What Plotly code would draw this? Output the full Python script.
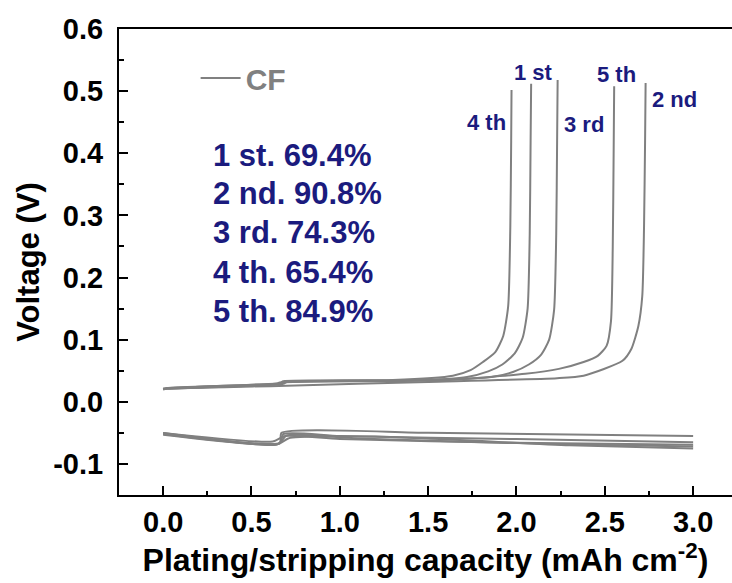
import plotly.graph_objects as go

# ---------------- data ----------------
# stripping (charge) curves, capacity in mAh cm-2, voltage in V
strip_cap_1 = [0.00, 0.02, 0.64, 0.66, 1.40, 1.72, 1.84, 1.92, 1.99, 2.035, 2.063, 2.075, 2.080, 2.083]
strip_v_1 = [0.021, 0.022, 0.028, 0.031, 0.034, 0.040, 0.049, 0.060, 0.078, 0.103, 0.150, 0.270, 0.420, 0.512]

strip_cap_2 = [0.00, 0.02, 0.70, 1.50, 2.23, 2.38, 2.60, 2.65, 2.69, 2.712, 2.722, 2.728, 2.731]
strip_v_2 = [0.020, 0.021, 0.026, 0.032, 0.038, 0.042, 0.066, 0.085, 0.122, 0.170, 0.280, 0.420, 0.513]

strip_cap_3 = [0.00, 0.02, 0.68, 0.70, 1.50, 1.86, 1.98, 2.07, 2.14, 2.185, 2.213, 2.225, 2.230, 2.233]
strip_v_3 = [0.020, 0.021, 0.029, 0.032, 0.035, 0.040, 0.048, 0.060, 0.076, 0.100, 0.148, 0.270, 0.420, 0.518]

strip_cap_4 = [0.00, 0.02, 0.66, 0.68, 1.30, 1.64, 1.74, 1.81, 1.88, 1.925, 1.953, 1.965, 1.970, 1.972]
strip_v_4 = [0.020, 0.022, 0.030, 0.033, 0.035, 0.042, 0.051, 0.064, 0.080, 0.106, 0.154, 0.280, 0.420, 0.502]

strip_cap_5 = [0.00, 0.02, 0.66, 0.68, 1.60, 2.05, 2.24, 2.38, 2.46, 2.51, 2.535, 2.545, 2.550, 2.553]
strip_v_5 = [0.021, 0.022, 0.030, 0.032, 0.035, 0.045, 0.053, 0.064, 0.074, 0.090, 0.130, 0.250, 0.400, 0.508]

# plating (discharge) curves
plate_cap_1 = [0.00, 0.66, 0.67, 1.50, 3.00]
plate_v_1 = [-0.050, -0.066, -0.050, -0.050, -0.055]
plate_cap_2 = [0.00, 0.66, 0.68, 1.00, 2.00, 3.00]
plate_v_2 = [-0.051, -0.067, -0.052, -0.055, -0.060, -0.065]
plate_cap_3 = [0.00, 0.65, 0.70, 1.10, 2.20, 3.00]
plate_v_3 = [-0.052, -0.068, -0.054, -0.059, -0.068, -0.072]
plate_cap_4 = [0.00, 0.64, 0.72, 1.20, 2.30, 3.00]
plate_v_4 = [-0.053, -0.069, -0.058, -0.056, -0.070, -0.075]
plate_cap_5 = [0.00, 0.62, 0.69, 1.00, 2.00, 3.00]
plate_v_5 = [-0.050, -0.064, -0.055, -0.060, -0.066, -0.069]

cycle_labels = ["1 st", "2 nd", "3 rd", "4 th", "5 th"]
efficiency_lines = ["1 st. 69.4%", "2 nd. 90.8%", "3 rd. 74.3%", "4 th. 65.4%", "5 th. 84.9%"]

x_ticks = [0.0, 0.5, 1.0, 1.5, 2.0, 2.5, 3.0]
y_ticks = [-0.1, 0.0, 0.1, 0.2, 0.3, 0.4, 0.5, 0.6]

# ---------------- figure ----------------
GRAY = "#808080"
NAVY = "#1b1b7e"
FONT = "Liberation Sans, Arial, sans-serif"

fig = go.Figure()

strips = [(strip_cap_1, strip_v_1), (strip_cap_2, strip_v_2), (strip_cap_3, strip_v_3),
          (strip_cap_4, strip_v_4), (strip_cap_5, strip_v_5)]
plates = [(plate_cap_1, plate_v_1), (plate_cap_2, plate_v_2), (plate_cap_3, plate_v_3),
          (plate_cap_4, plate_v_4), (plate_cap_5, plate_v_5)]

first = True
for cx, vy in plates + strips:
    fig.add_trace(go.Scatter(x=cx, y=vy, mode="lines",
                             line=dict(color=GRAY, width=2, shape="spline", smoothing=0.6),
                             name="CF", showlegend=first, hoverinfo="skip"))
    first = False

# cycle labels near curve tops
label_pos = {"1 st": (2.099, 0.530), "2 nd": (2.894, 0.486), "3 rd": (2.382, 0.447),
             "4 th": (1.833, 0.449), "5 th": (2.565, 0.526)}
for lab in cycle_labels:
    x, y = label_pos[lab]
    fig.add_annotation(x=x, y=y, text=lab, showarrow=False, xanchor="center", yanchor="middle",
                       font=dict(family=FONT, size=22, color=NAVY, weight="bold"))

eff_y = [0.397, 0.335, 0.272, 0.208, 0.146]
for t, y in zip(efficiency_lines, eff_y):
    fig.add_annotation(x=0.27, y=y, text=t, showarrow=False, xanchor="left", yanchor="middle",
                       font=dict(family=FONT, size=31, color=NAVY, weight="bold"))

fig.update_layout(
    width=732, height=583,
    margin=dict(l=119, r=0, t=29, b=88),
    paper_bgcolor="white", plot_bgcolor="white",
    font=dict(family=FONT, color="black"),
    legend=dict(x=0.125, y=0.895, xanchor="left", yanchor="middle", bgcolor="rgba(0,0,0,0)",
                itemwidth=40,
                font=dict(family=FONT, size=30, color=GRAY, weight="bold")),
    xaxis=dict(range=[-0.25, 3.22], tickvals=x_ticks, ticktext=[f"{v:.1f}" for v in x_ticks],
               showline=True, linecolor="black", linewidth=2, mirror=True,
               ticks="inside", ticklen=9, tickwidth=2, tickcolor="black",
               minor=dict(ticks="inside", ticklen=4, tickwidth=2, dtick=0.25, tick0=0, tickcolor="black"),
               showgrid=False, zeroline=False,
               tickfont=dict(family=FONT, size=29, weight="bold"),
               title=dict(text="Plating/stripping capacity (mAh cm<sup>-2</sup>)", standoff=8,
                          font=dict(family=FONT, size=32, weight="bold"))),
    yaxis=dict(range=[-0.15, 0.6], tickvals=y_ticks, ticktext=[f"{v:.1f}" for v in y_ticks],
               showline=True, linecolor="black", linewidth=2, mirror=False,
               ticks="inside", ticklen=9, tickwidth=2, tickcolor="black",
               minor=dict(ticks="inside", ticklen=5, tickwidth=2, dtick=0.05, tick0=0, tickcolor="black"),
               showgrid=False, zeroline=False, ticklabelstandoff=8,
               tickfont=dict(family=FONT, size=29, weight="bold"),
               title=dict(text="Voltage (V)", standoff=4,
                          font=dict(family=FONT, size=31, weight="bold"))),
)

fig.write_html("out.html")
